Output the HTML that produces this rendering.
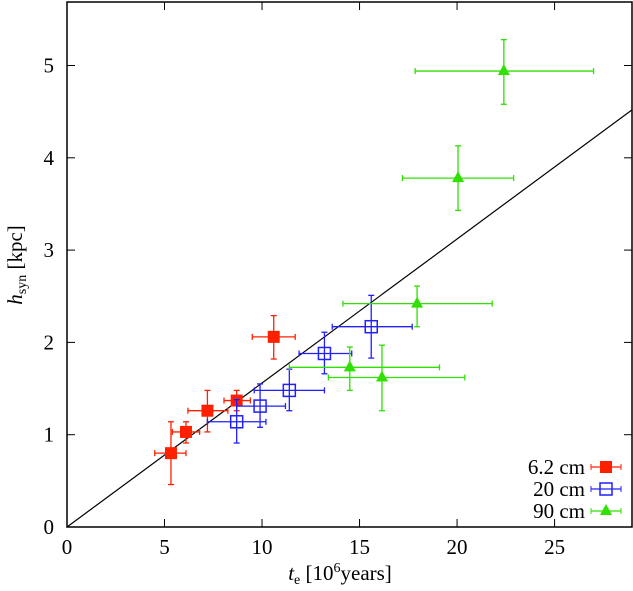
<!DOCTYPE html>
<html><head><meta charset="utf-8"><style>
body{margin:0;background:#fff}
svg text{font-family:"Liberation Serif",serif;font-size:21px;fill:#000}
</style></head><body>
<svg id="c" width="633" height="586"></svg>
<script>
const redX=[5.33,6.1,7.2,8.7,10.6], redY=[0.80,1.03,1.26,1.37,2.06];
const redXlo=[4.5,5.4,6.2,8.05,9.5], redXhi=[6.1,6.8,8.25,9.4,11.7];
const redYlo=[0.46,0.91,1.03,1.26,1.82], redYhi=[1.14,1.14,1.48,1.48,2.29];
const bluX=[8.7,9.9,11.4,13.2,15.6], bluY=[1.14,1.31,1.48,1.88,2.17];
const bluXlo=[7.2,8.7,9.6,11.9,13.6], bluXhi=[10.2,11.2,13.2,14.6,17.7];
const bluYlo=[0.91,1.08,1.26,1.66,1.83], bluYhi=[1.38,1.55,1.71,2.11,2.51];
const grnX=[14.5,16.15,17.95,20.05,22.4], grnY=[1.73,1.62,2.42,3.78,4.94];
const grnXlo=[11.4,13.4,14.15,17.2,17.85], grnXhi=[19.1,20.4,21.8,22.9,27.0];
const grnYlo=[1.48,1.26,2.17,3.43,4.58], grnYhi=[1.95,1.97,2.61,4.13,5.28];
const xTicks=[0,5,10,15,20,25], yTicks=[0,1,2,3,4,5];
const fitSlope=[0.156];
const X0=67,X1=632,Y0=527,Y1=2,XMAX=28.97,YMAX=5.688;
const sx=v=>X0+v/XMAX*(X1-X0), sy=v=>Y0-v/YMAX*(Y0-Y1);
const svg=document.getElementById('c');const NS='http://www.w3.org/2000/svg';
function mk(t,a,p){const e=document.createElementNS(NS,t);for(const k in a)e.setAttribute(k,a[k]);(p||svg).appendChild(e);return e;}
let fl=mk('line',{x1:sx(0),y1:sy(0),x2:sx(XMAX),y2:sy(fitSlope[0]*XMAX),stroke:'#000','stroke-width':1.2});


function series(name,col,xs,ys,xl,xh,yl,yh,shape){
 const g=mk('g',{stroke:col,'stroke-width':1.3});
 
 
 xs.forEach((x,i)=>{
  const px=sx(x),py=sy(ys[i]);
  const a=sx(xl[i]),b=sx(xh[i]),c=sy(yl[i]),d=sy(yh[i]);
  mk('line',{x1:a,y1:py,x2:b,y2:py},g);mk('line',{x1:a,y1:py-3,x2:a,y2:py+3},g);mk('line',{x1:b,y1:py-3,x2:b,y2:py+3},g);
  mk('line',{x1:px,y1:c,x2:px,y2:d},g);mk('line',{x1:px-3,y1:c,x2:px+3,y2:c},g);mk('line',{x1:px-3,y1:d,x2:px+3,y2:d},g);
  let m;
  if(shape==='fs')m=mk('rect',{x:px-6,y:py-6,width:12,height:12,fill:col,stroke:'none'},g);
  else if(shape==='os')m=mk('rect',{x:px-6,y:py-6,width:12,height:12,fill:'none','stroke-width':1.5},g);
  else m=mk('polygon',{points:`${px},${py-7} ${px-6},${py+4} ${px+6},${py+4}`,fill:col,stroke:'none'},g);
  
  
 });
}
series('red-6cm','#ff2000',redX,redY,redXlo,redXhi,redYlo,redYhi,'fs');
series('blue-20cm','#2020ff',bluX,bluY,bluXlo,bluXhi,bluYlo,bluYhi,'os');
series('green-90cm','#30e000',grnX,grnY,grnXlo,grnXhi,grnYlo,grnYhi,'tri');
let fr=mk('rect',{x:X0,y:Y1,width:X1-X0,height:Y0-Y1,fill:'none',stroke:'#000','stroke-width':1.5});


xTicks.forEach(v=>{const p=sx(v);mk('line',{x1:p,y1:Y0,x2:p,y2:Y0-8,stroke:'#000'});mk('line',{x1:p,y1:Y1,x2:p,y2:Y1+8,stroke:'#000'});
 const t=mk('text',{x:p,y:554,'text-anchor':'middle'});t.textContent=v;
 
 });
yTicks.forEach(v=>{const p=sy(v);mk('line',{x1:X0,y1:p,x2:X0+8,y2:p,stroke:'#000'});mk('line',{x1:X1,y1:p,x2:X1-8,y2:p,stroke:'#000'});
 const t=mk('text',{x:54,y:p+7,'text-anchor':'end'});t.textContent=v;
 
 });
const legN=['6.2 cm','20 cm','90 cm'],legC=['#ff2000','#2020ff','#30e000'],legS=['fs','os','tri'];
legN.forEach((n,i)=>{const y=467+i*22;
 const t=mk('text',{x:585,y:y+7,'text-anchor':'end'});t.textContent=n;
 
 
 const c=legC[i];mk('line',{x1:591,y1:y,x2:621,y2:y,stroke:c,'stroke-width':1.3});
 mk('line',{x1:591,y1:y-3,x2:591,y2:y+3,stroke:c});mk('line',{x1:621,y1:y-3,x2:621,y2:y+3,stroke:c});
 if(legS[i]==='fs')mk('rect',{x:600,y:y-6,width:12,height:12,fill:c});
 else if(legS[i]==='os')mk('rect',{x:600,y:y-6,width:12,height:12,fill:'none',stroke:c,'stroke-width':1.5});
 else mk('polygon',{points:`606,${y-7} 600,${y+4} 612,${y+4}`,fill:c});
});
</script>
<svg style="position:absolute;left:0;top:0" width="633" height="586">
<text x="340" y="580" text-anchor="middle"><tspan font-style="italic">t</tspan><tspan font-size="14" dy="4">e</tspan><tspan dy="-4"> [10</tspan><tspan font-size="14" dy="-8">6</tspan><tspan dy="8">years]</tspan></text>
<text transform="translate(22,265) rotate(-90)" text-anchor="middle"><tspan font-style="italic">h</tspan><tspan font-size="14" dy="4">syn</tspan><tspan dy="-4"> [kpc]</tspan></text>
</svg>
</body></html>
